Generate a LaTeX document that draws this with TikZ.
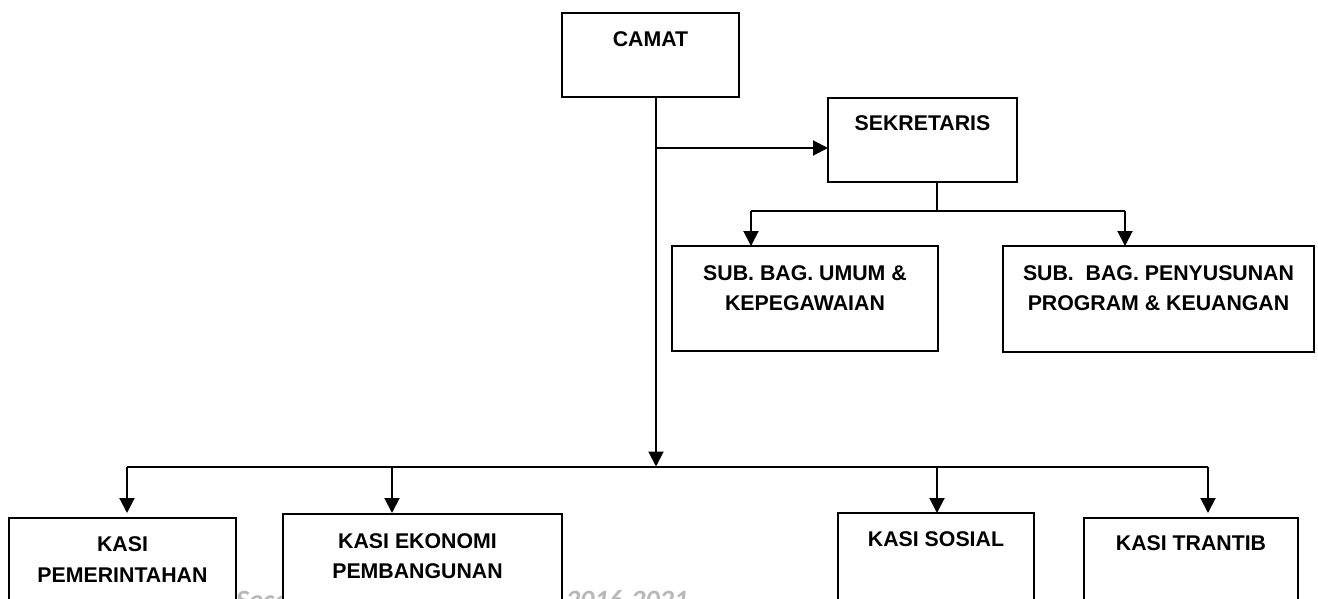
\documentclass[tikz,border=0pt]{standalone}
\usepackage{fontspec}
\setmainfont{Liberation Sans}
\newfontfamily\faintfont{Carlito}
\usetikzlibrary{arrows.meta}
\begin{document}
\begin{tikzpicture}[x=1pt,y=-1pt,
  box/.style={draw, line width=2pt, fill=white, rectangle, inner sep=0pt, outer sep=0pt, anchor=north west},
  lbl/.style={anchor=north, align=center, inner sep=0pt, font=\bfseries\fontsize{21.3}{30.5}\selectfont},
  conn/.style={line width=2pt},
  arr/.style={conn, -{Triangle[length=15pt,width=15pt]}}]
\useasboundingbox (0,0) rectangle (1318,599);
\clip (0,0) rectangle (1318,599);
\fill[white] (0,0) rectangle (1318,599);
% faint background text (mostly hidden behind boxes)
\node[anchor=base west, inner sep=0pt, text=black!28, font=\faintfont\bfseries\itshape\fontsize{28}{32}\selectfont] (src) at (236,609) {\makebox[452pt][s]{Secara umum Kecamatan\hfill 2016-2021}};
% boxes
\node[box, minimum width=177pt, minimum height=84pt] (camat) at (562,13) {};
\node[box, minimum width=189pt, minimum height=84pt] (sek) at (828,98) {};
\node[box, minimum width=266pt, minimum height=105pt] (sub1) at (672,246) {};
\node[box, minimum width=311pt, minimum height=106pt] (sub2) at (1003,246) {};
\node[box, minimum width=227pt, minimum height=120pt] (k1) at (9,518) {};
\node[box, minimum width=279pt, minimum height=120pt] (k2) at (283,514) {};
\node[box, minimum width=196pt, minimum height=120pt] (k3) at (838,513) {};
\node[box, minimum width=214pt, minimum height=120pt] (k4) at (1084,518) {};
% labels
\node[lbl] (tcamat) at ([yshift=-18pt]camat.north) {CAMAT};
\node[lbl] (tsek) at ([yshift=-17pt]sek.north) {SEKRETARIS};
\node[lbl] (tsub1) at ([yshift=-19pt]sub1.north) {SUB. BAG. UMUM \&\\KEPEGAWAIAN};
\node[lbl] (tsub2) at ([yshift=-19pt]sub2.north) {SUB.\ \ BAG. PENYUSUNAN\\PROGRAM \& KEUANGAN};
\node[lbl] (tk1) at ([yshift=-18.5pt]k1.north) {KASI\\PEMERINTAHAN};
\node[lbl] (tk2) at ([xshift=-5pt,yshift=-19pt]k2.north) {KASI EKONOMI\\PEMBANGUNAN};
\node[lbl] (tk3) at ([yshift=-18.5pt]k3.north) {KASI SOSIAL};
\node[lbl] (tk4) at ([yshift=-17.5pt]k4.north) {KASI TRANTIB};
% junction coordinates
\coordinate (main) at (656,466.5);
\coordinate (j1) at (656,148);
\coordinate (s1) at (937,211);
\coordinate (a1) at (751,211);
\coordinate (a2) at (1125,211);
\coordinate (b1) at (127,466.5);
\coordinate (b2) at (392,466.5);
\coordinate (b3) at (937,466.5);
\coordinate (b4) at (1208,466.5);
% connectors
\draw[arr] (camat.south -| main) -- (main);
\draw[arr] (j1) -- (j1 -| sek.west);
\draw[conn] (sek.south -| s1) -- (s1);
\draw[conn] (a1) -- (a2);
\draw[arr] (a1) -- (a1 |- sub1.north);
\draw[arr] (a2) -- (a2 |- sub2.north);
\draw[conn] (b1) -- (b4);
\draw[arr] (b1) -- (b1 |- k3.north);
\draw[arr] (b2) -- (b2 |- k3.north);
\draw[arr] (b3) -- (b3 |- k3.north);
\draw[arr] (b4) -- (b4 |- k3.north);
\end{tikzpicture}
\end{document}
